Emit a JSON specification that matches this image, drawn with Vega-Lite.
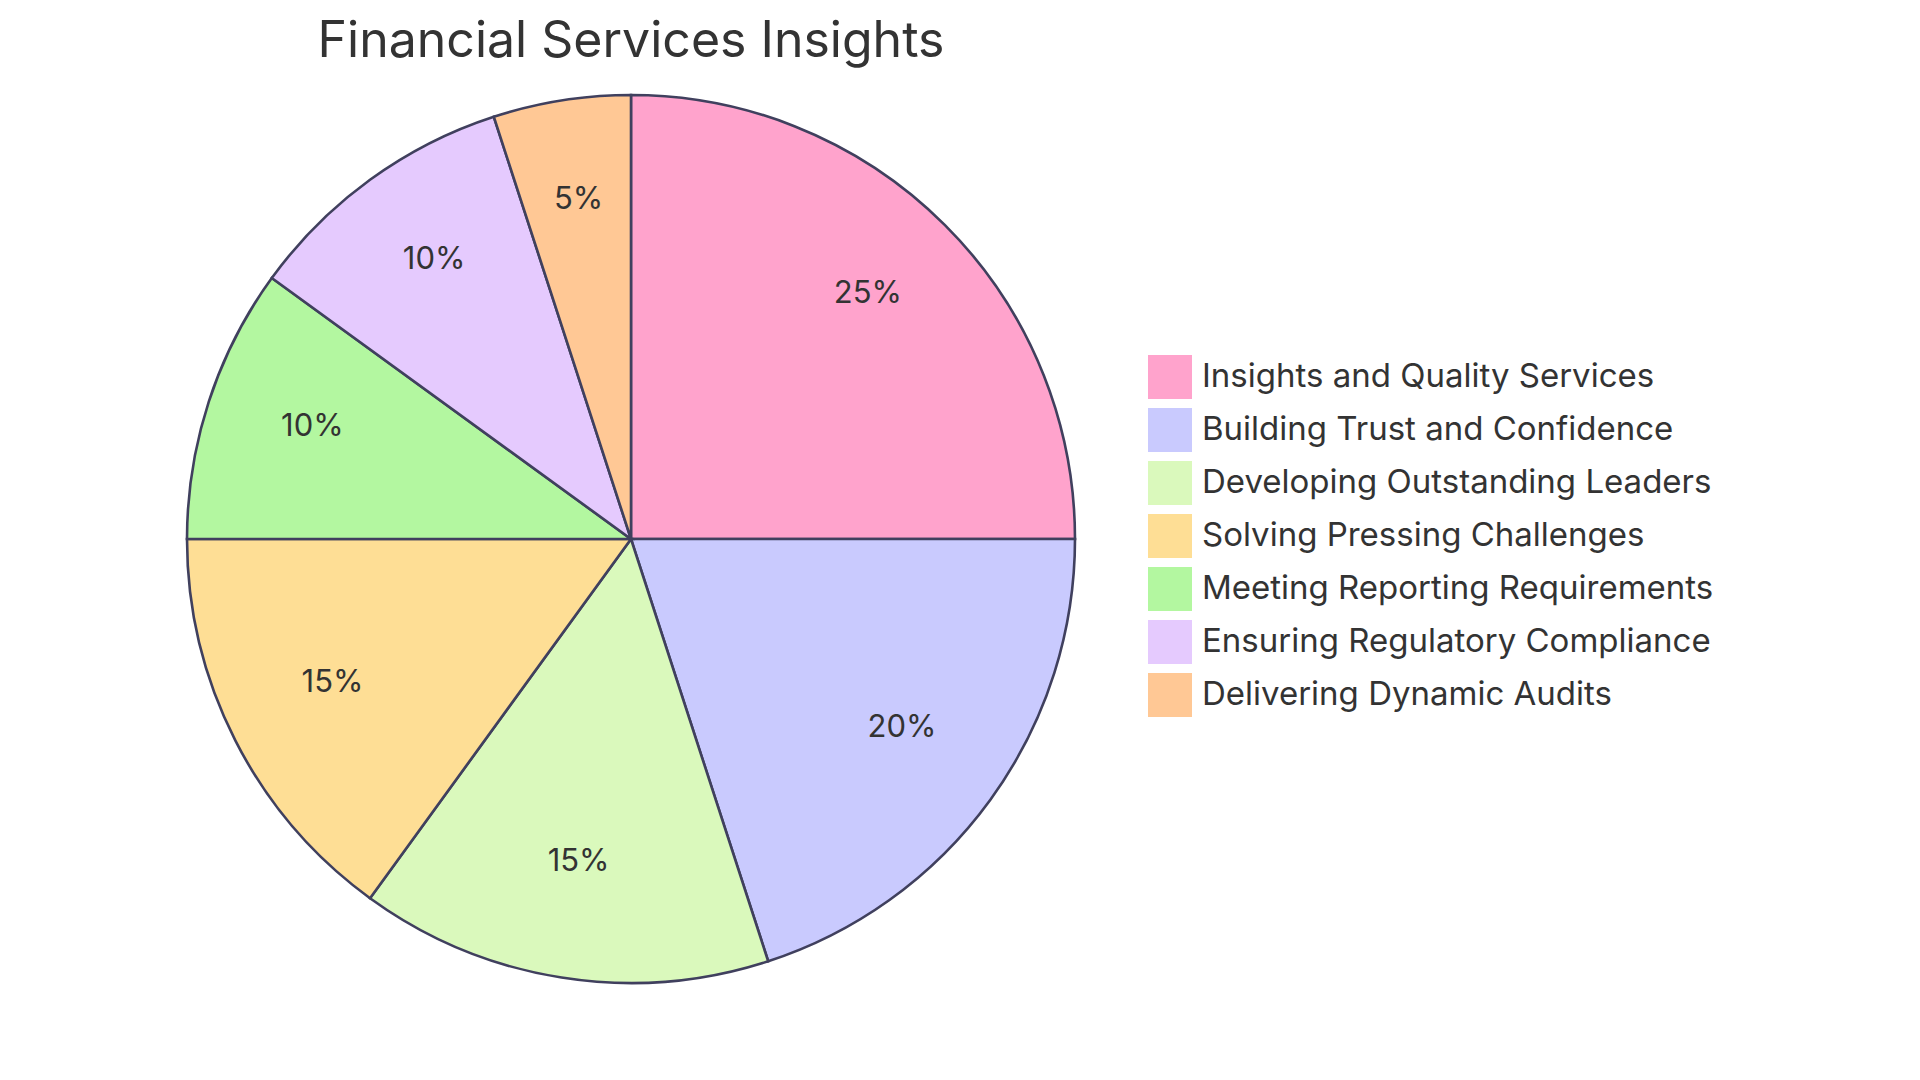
{
  "$schema": "https://vega.github.io/schema/vega-lite/v6.json",
  "autosize": {"type": "none"},
  "padding": {"left": 187, "top": 95, "right": 845, "bottom": 97},
  "width": 888,
  "height": 888,
  "background": "white",
  "title": {
    "text": "Financial Services Insights",
    "anchor": "middle",
    "font": "Inter",
    "fontSize": 50,
    "fontWeight": 400,
    "color": "#333333",
    "baseline": "alphabetic",
    "offset": 34,
    "dy": 51
  },
  "data": {
    "values": [
      {"category": "Insights and Quality Services", "value": 25, "label": "25%", "order": 1},
      {"category": "Building Trust and Confidence", "value": 20, "label": "20%", "order": 2},
      {"category": "Developing Outstanding Leaders", "value": 15, "label": "15%", "order": 3},
      {"category": "Solving Pressing Challenges", "value": 15, "label": "15%", "order": 4},
      {"category": "Meeting Reporting Requirements", "value": 10, "label": "10%", "order": 5},
      {"category": "Ensuring Regulatory Compliance", "value": 10, "label": "10%", "order": 6},
      {"category": "Delivering Dynamic Audits", "value": 5, "label": "5%", "order": 7}
    ]
  },
  "encoding": {
    "theta": {"field": "value", "type": "quantitative", "stack": true},
    "order": {"field": "order", "type": "quantitative", "sort": "ascending"}
  },
  "layer": [
    {
      "mark": {"type": "arc", "outerRadius": 444, "stroke": "#40405e", "strokeWidth": 2.6},
      "encoding": {
        "color": {
          "field": "category",
          "type": "nominal",
          "sort": ["Insights and Quality Services", "Building Trust and Confidence", "Developing Outstanding Leaders", "Solving Pressing Challenges", "Meeting Reporting Requirements", "Ensuring Regulatory Compliance", "Delivering Dynamic Audits"],
          "scale": {
            "domain": ["Insights and Quality Services", "Building Trust and Confidence", "Developing Outstanding Leaders", "Solving Pressing Challenges", "Meeting Reporting Requirements", "Ensuring Regulatory Compliance", "Delivering Dynamic Audits"],
            "range": ["#FFA3CC", "#C9CAFE", "#DAF9BC", "#FEDE95", "#B3F7A0", "#E5CAFE", "#FFC895"]
          },
          "legend": {
            "orient": "none",
            "legendX": 961,
            "legendY": 260,
            "title": null,
            "symbolType": "square",
            "symbolSize": 1936,
            "symbolStrokeWidth": 0,
            "symbolOpacity": 1,
            "labelFont": "Inter",
            "labelFontSize": 33,
            "labelColor": "#333333",
            "labelOffset": 10,
            "labelLimit": 800,
            "rowPadding": 9
          }
        }
      }
    },
    {
      "mark": {"type": "text", "radius": 335, "dy": -8, "font": "Inter", "fontSize": 31, "color": "#333333", "align": "center", "baseline": "middle"},
      "encoding": {
        "text": {"field": "label", "type": "nominal"}
      }
    }
  ]
}
